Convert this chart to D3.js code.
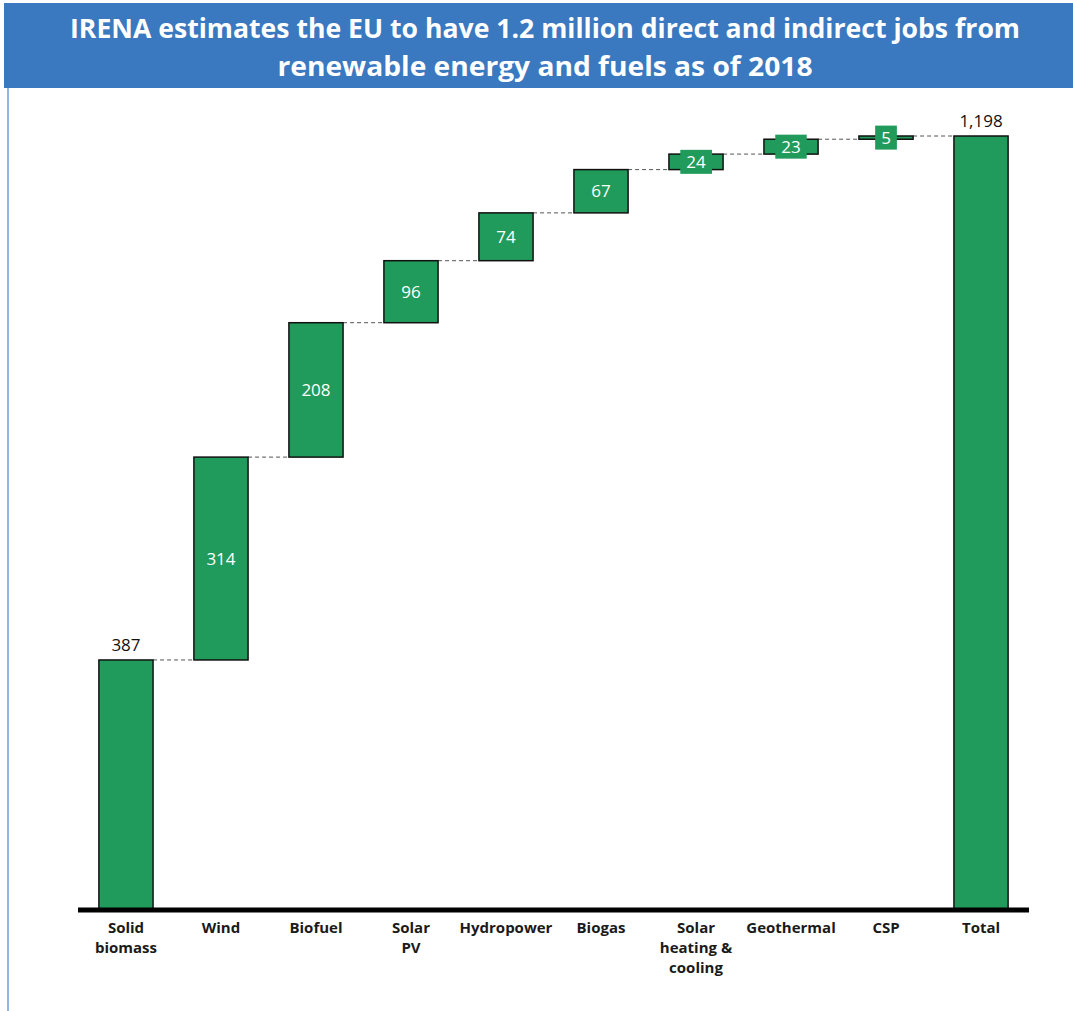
<!DOCTYPE html>
<html>
<head>
<meta charset="utf-8">
<script src="https://cdnjs.cloudflare.com/ajax/libs/d3/7.8.5/d3.min.js"></script>
<style>
  body { margin: 0; background: #fff; }
  svg { display: block; }
</style>
</head>
<body>
<svg id="chart" width="1073" height="1011"></svg>
<script>
// data, thousands of jobs
var categories = ["Solid biomass", "Wind", "Biofuel", "Solar PV", "Hydropower", "Biogas", "Solar heating & cooling", "Geothermal", "CSP", "Total"];
var labelLines = [["Solid", "biomass"], ["Wind"], ["Biofuel"], ["Solar", "PV"], ["Hydropower"], ["Biogas"], ["Solar", "heating &", "cooling"], ["Geothermal"], ["CSP"], ["Total"]];
var jobs = [387, 314, 208, 96, 74, 67, 24, 23, 5];
var totalJobs = 1198;
var titleLines = ["IRENA estimates the EU to have 1.2 million direct and indirect jobs from", "renewable energy and fuels as of 2018"];

var svg = d3.select("#chart"),
    width = +svg.attr("width"),
    height = +svg.attr("height");

var green = "#219b5b", blue = "#3a78bf";
var font = "'Open Sans', 'Noto Sans', sans-serif";

// banner + frame
svg.append("rect").attr("x", 4).attr("y", 3).attr("width", width - 4).attr("height", 85).attr("fill", blue);
svg.append("line").attr("x1", 8).attr("x2", 8).attr("y1", 88).attr("y2", height)
  .attr("stroke", "#6d9ed9").attr("stroke-width", 1.5);

svg.append("g").selectAll("text").data(titleLines).enter().append("text")
  .attr("x", 545).attr("y", function(d, i) { return 38 + i * 38; })
  .attr("text-anchor", "middle")
  .attr("fill", "#fff").attr("font-family", font).attr("font-weight", "bold").attr("font-size", 26)
  .attr("textLength", function(d, i) { return i == 0 ? 950 : 535; })
  .attr("lengthAdjust", "spacingAndGlyphs")
  .text(function(d) { return d; });

// waterfall steps
var steps = [], run = 0;
jobs.forEach(function(v, i) {
  steps.push({ name: categories[i], v: v, y0: i == 0 ? 0 : run, y1: run + v, first: i == 0 });
  run += v;
});
steps.push({ name: categories[9], v: totalJobs, y0: 0, y1: totalJobs, total: true });

var x = d3.scaleBand().domain(categories).range([78, 1029]).paddingInner(0.43).paddingOuter(0.22);
var y = d3.scaleLinear().domain([0, 1198]).range([910, 136]);

var g = svg.append("g");

// dashed connectors
g.selectAll(".conn").data(steps.slice(0, -1)).enter().append("line")
  .attr("class", "conn")
  .attr("x1", function(d) { return x(d.name) + x.bandwidth(); })
  .attr("x2", function(d, i) { return x(steps[i + 1].name); })
  .attr("y1", function(d) { return y(d.y1); })
  .attr("y2", function(d) { return y(d.y1); })
  .attr("stroke", "#555").attr("stroke-width", 1).attr("stroke-dasharray", "4,3");

g.selectAll(".bar").data(steps).enter().append("rect")
  .attr("class", "bar")
  .attr("x", function(d) { return x(d.name); })
  .attr("width", x.bandwidth())
  .attr("y", function(d) { return y(d.y1); })
  .attr("height", function(d) { return y(d.y0) - y(d.y1); })
  .attr("fill", green).attr("stroke", "#111").attr("stroke-width", 1.5);

// labels
steps.forEach(function(d) {
  var cx = x(d.name) + x.bandwidth() / 2;
  var txt = d3.format(",")(d.v);
  if (d.first || d.total) {
    g.append("text").attr("x", cx).attr("y", y(d.y1) - 9)
      .attr("text-anchor", "middle").attr("font-family", font).attr("font-size", 17).attr("fill", "#111")
      .text(txt);
  } else {
    var cy = (y(d.y0) + y(d.y1)) / 2;
    var lbl = g.append("g");
    var t = lbl.append("text").attr("x", cx).attr("y", cy).attr("dy", "0.36em")
      .attr("text-anchor", "middle").attr("font-family", font).attr("font-size", 17).attr("fill", "#fff")
      .text(txt);
    if (y(d.y0) - y(d.y1) < 24) {
      var bb = t.node().getBBox();
      lbl.insert("rect", "text").attr("x", bb.x - 6).attr("y", cy - 12)
        .attr("width", bb.width + 12).attr("height", 24).attr("fill", green);
    }
  }
});

// baseline
g.append("line").attr("x1", 78).attr("x2", 1029).attr("y1", 910).attr("y2", 910)
  .attr("stroke", "#000").attr("stroke-width", 5);

// category labels
var cat = g.selectAll(".cat").data(categories).enter().append("text")
  .attr("class", "cat")
  .attr("x", function(d) { return x(d) + x.bandwidth() / 2; })
  .attr("y", 933)
  .attr("text-anchor", "middle").attr("font-family", font).attr("font-weight", "bold")
  .attr("font-size", 15).attr("fill", "#1a1a1a");
cat.each(function(d, i) {
  var el = d3.select(this);
  labelLines[i].forEach(function(l, j) {
    el.append("tspan").attr("x", el.attr("x")).attr("dy", j == 0 ? 0 : 20).text(l);
  });
});
</script>
</body>
</html>
